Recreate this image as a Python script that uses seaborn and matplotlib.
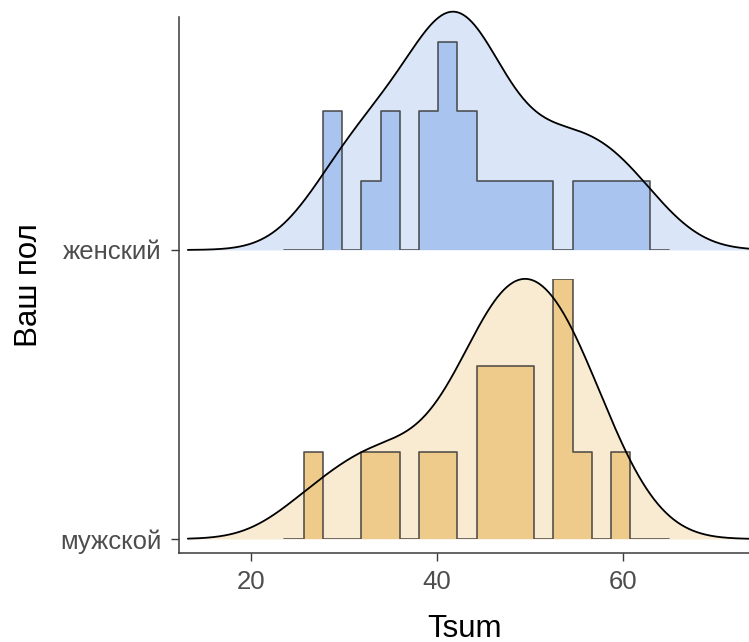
import numpy as np
import pandas as pd
import matplotlib
matplotlib.use("Agg")
import matplotlib.pyplot as plt
import seaborn as sns

# ---------------- data ----------------
groups = ["мужской", "женский"]          # y positions 1, 2
tsum_female = [29.2, 29.6, 33.5, 34.6, 35.6, 39.6, 40.0, 41.0, 41.7, 42.1,
               42.9, 43.8, 44.6, 46.8, 50.2, 52.2, 54.8, 56.9, 59.0, 62.3]
tsum_male = [26.7, 32.6, 34.3, 39.9, 41.9, 45.4, 46.0, 47.0, 48.0, 49.2,
             50.1, 53.0, 53.6, 54.2, 55.4, 59.5]
density_fill = {"женский": "#dae6f7", "мужской": "#f9ead2"}
hist_fill = {"женский": "#a8c4ef", "мужской": "#efcb8b"}
hist_bins = 20
hist_range = (23.6, 64.92)
x_ticks = [20, 40, 60]
x_limits = (12.29, 73.55)
y_limits = (0.9526, 2.806)
ridge_scale = 0.9

values = {"женский": tsum_female, "мужской": tsum_male}
df = pd.DataFrame({
    "Tsum": tsum_male + tsum_female,
    "sex": ["мужской"] * len(tsum_male) + ["женский"] * len(tsum_female),
})

sns.set_theme(style="ticks")
plt.rcParams["font.family"] = ["Liberation Sans", "DejaVu Sans"]


def bw_nrd0(x):
    x = np.asarray(x, float)
    sd = x.std(ddof=1)
    q75, q25 = np.percentile(x, [75, 25])
    return 0.9 * min(sd, (q75 - q25) / 1.34) * len(x) ** -0.2


bw = np.mean([bw_nrd0(values[g]) for g in groups])
grid_lo = df["Tsum"].min() - 3 * bw
grid_hi = df["Tsum"].max() + 3 * bw

fig = plt.figure(figsize=(7.49, 6.42), dpi=100)
ax = fig.add_axes([0.2394, 0.1391, 0.7606, 0.8344])
ax.set_xlim(x_limits)
ax.set_ylim(y_limits)
ylo, yhi = y_limits

insets = {}
kde_max = 0.0
for pos, g in enumerate(groups, start=1):
    vals = np.asarray(values[g], float)
    ins = ax.inset_axes([0, (pos - ylo) / (yhi - ylo), 1, ridge_scale / (yhi - ylo)])
    ins.patch.set_alpha(0)
    bwm = bw / vals.std(ddof=1)
    sns.kdeplot(x=vals, ax=ins, bw_method=bwm, cut=10, clip=(grid_lo, grid_hi),
                gridsize=600, fill=True, color=density_fill[g], alpha=1,
                linewidth=0, zorder=1)
    sns.kdeplot(x=vals, ax=ins, bw_method=bwm, cut=10, clip=(grid_lo, grid_hi),
                gridsize=600, fill=False, color="black", linewidth=1.3, zorder=4)
    ln = ins.lines[-1]
    ln.set_clip_on(False)
    kde_max = max(kde_max, np.max(ln.get_ydata()))
    insets[g] = ins

# histogram density scaling (common across groups, like ggridges)
hist_max = 0.0
width = (hist_range[1] - hist_range[0]) / hist_bins
for g in groups:
    c, _ = np.histogram(values[g], bins=hist_bins, range=hist_range)
    hist_max = max(hist_max, c.max() / (len(values[g]) * width))

for g in groups:
    ins = insets[g]
    vals = values[g]
    k = kde_max / (len(vals) * width * hist_max)
    w = [k] * len(vals)
    sns.histplot(x=vals, weights=w, ax=ins, bins=hist_bins, binrange=hist_range,
                 stat="count", element="step", fill=True, color=hist_fill[g],
                 alpha=1, linewidth=0, zorder=2)
    sns.histplot(x=vals, weights=w, ax=ins, bins=hist_bins, binrange=hist_range,
                 stat="count", element="step", fill=False, color="#3a3a3a",
                 alpha=0.85, linewidth=1.2, zorder=3)
    ins.set_xlim(x_limits)
    ins.set_ylim(0, kde_max)
    ins.axis("off")

# axes styling (theme_classic look)
for s in ["top", "right"]:
    ax.spines[s].set_visible(False)
for s in ["left", "bottom"]:
    ax.spines[s].set_color("#3a3a3a")
    ax.spines[s].set_linewidth(1.1)
ax.set_yticks([1, 2], groups)
ax.set_xticks(x_ticks)
ax.tick_params(axis="both", labelsize=18.5, labelcolor="#4d4d4d", color="#3a3a3a",
               length=5.5, width=1.0, pad=7)
ax.set_xlabel("Tsum", fontsize=22.5, color="black", labelpad=14)
ax.set_ylabel("Ваш пол", fontsize=22.5, color="black", labelpad=12)

fig.savefig("out.png", dpi=100)
